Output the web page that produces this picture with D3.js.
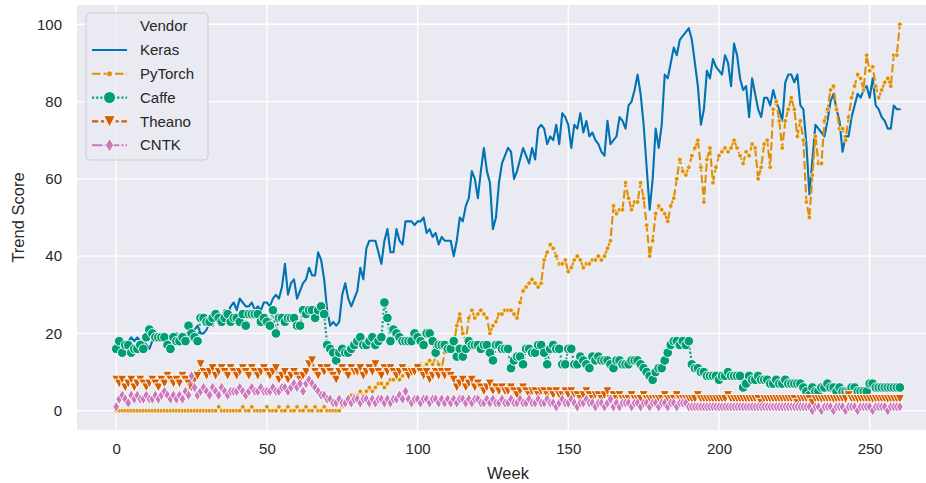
<!DOCTYPE html>
<html>
<head>
<meta charset="utf-8">
<script src="https://cdn.jsdelivr.net/npm/d3@7"></script>
<style>
  html, body { margin: 0; padding: 0; background: #ffffff; }
  svg { display: block; }
  text { font-family: "Liberation Sans", Arial, sans-serif; fill: #262626; }
</style>
</head>
<body>
<svg id="chart" width="926" height="483"></svg>
<script>
const vendors = ["Keras", "PyTorch", "Caffe", "Theano", "CNTK"];
const xTicks = [0, 50, 100, 150, 200, 250];
const yTicks = [0, 20, 40, 60, 80, 100];
const xLabel = "Week";
const yLabel = "Trend Score";
const legendTitle = "Vendor";

const keras = [
16,17,18,17,18,19,18,19,18,18,
17,16,18,19,18,19,20,19,18,19,
20,19,18,17,19,20,21,22,20,20,
21,23,22,24,25,24,26,25,27,28,
26,29,28,27,27,28,26,27,26,28,
28,27,29,30,29,32,38,30,33,34,
29,31,33,34,37,35,35,41,39,34,
26,22,23,22,23,30,33,29,27,29,
31,37,34,42,44,44,44,41,38,44,
47,41,41,47,44,43,49,49,49,48,
49,49,50,46,47,45,46,43,45,44,
44,44,40,44,50,49,53,55,62,60,
55,62,68,62,59,47,50,59,64,66,
68,67,60,62,65,68,66,64,68,65,
73,74,73,69,71,70,74,69,77,76,
74,68,74,73,77,72,75,71,72,70,
69,67,66,75,69,70,71,76,75,73,
79,80,83,87,82,74,63,52,60,73,
68,74,87,86,90,94,92,96,97,98,
99,96,90,84,74,78,88,86,91,89,
88,87,92,90,84,95,92,86,83,84,
76,86,82,78,76,81,81,79,83,80,
78,75,85,87,87,85,87,79,78,69,
56,65,74,73,72,71,75,80,82,78,
75,67,71,71,76,79,82,81,83,84,
81,86,79,78,76,75,73,73,79,78,
78];

const pytorch = [
0,0,0,0,0,0,0,0,0,0,
0,0,0,0,0,0,0,0,0,0,
0,0,0,0,0,0,0,0,0,0,
0,0,0,0,1,0,0,0,0,0,
0,0,1,0,0,1,0,0,0,0,
1,0,0,0,1,0,0,1,0,0,
1,0,0,1,0,0,1,0,0,1,
0,0,0,0,0,1,2,3,4,4,
4,5,4,5,6,5,6,7,7,6,
7,8,8,9,8,9,10,11,10,10,
11,12,11,12,13,12,14,12,11,15,
16,16,17,22,25,20,18,24,26,24,
25,26,25,24,20,22,23,25,25,26,
26,26,25,24,28,31,32,33,34,33,
32,33,39,41,43,42,40,38,38,39,
36,37,39,40,39,37,38,38,39,39,
40,39,40,42,44,53,51,52,52,59,
55,52,54,54,59,55,48,40,44,51,
53,52,51,49,53,55,60,65,62,61,
63,66,68,70,63,54,65,68,59,63,
66,67,68,67,68,70,68,66,64,67,
66,69,68,60,63,69,70,63,78,80,
75,68,75,78,81,78,71,75,70,54,
50,61,71,64,64,75,78,83,84,78,
73,73,70,76,81,84,87,86,83,92,
88,89,84,81,83,85,86,84,92,92,
100];

const caffe = [
16,18,15,17,17,15,16,16,17,16,
19,21,20,19,19,19,19,17,16,19,
18,18,19,18,22,20,19,18,24,24,
23,23,24,25,24,23,24,25,23,24,
24,23,25,22,25,25,25,25,23,24,
23,22,26,20,24,24,23,24,24,24,
22,22,26,25,26,26,24,26,27,25,
17,16,15,13,15,16,15,15,16,17,
18,19,17,17,18,19,17,18,19,28,
24,18,21,20,19,18,18,18,18,20,
19,18,17,20,20,18,15,17,17,17,
16,16,18,14,16,14,16,18,17,17,
17,16,17,17,15,13,17,17,16,16,
16,11,13,14,14,12,16,16,15,15,
17,17,15,12,16,17,16,16,12,12,
16,16,12,12,14,13,12,11,14,13,
14,13,13,13,12,11,13,13,12,12,
12,13,13,13,12,11,10,9,8,10,
11,11,13,15,17,18,18,17,18,17,
18,12,11,11,10,10,9,9,9,9,
8,9,9,10,9,9,9,9,6,7,
9,8,8,9,8,8,8,7,7,8,
7,7,8,7,7,7,7,7,6,5,
4,6,5,5,6,6,7,6,6,5,
6,5,5,5,6,6,5,5,5,5,
7,7,6,6,6,6,6,6,6,6,
6];

const theano = [
8,7,8,6,7,8,6,7,8,7,
6,7,8,7,6,8,7,9,8,7,
8,7,9,8,7,6,8,9,12,10,
9,10,11,9,10,11,10,9,11,10,
9,10,11,10,9,11,10,9,10,11,
10,9,10,11,8,9,10,8,9,10,
9,8,9,10,12,13,10,9,11,10,
11,10,9,8,10,11,10,9,11,10,
10,11,9,10,11,10,12,10,9,11,
10,11,10,9,10,11,10,9,10,10,
11,10,9,10,8,9,10,9,10,9,
10,9,8,6,7,8,6,7,8,6,
7,6,5,6,7,5,6,5,6,5,
5,6,5,4,5,6,5,4,5,5,
4,5,5,4,5,4,5,4,4,5,
4,5,4,4,3,4,5,4,3,4,
4,3,4,5,3,4,3,4,3,3,
3,4,3,3,3,4,3,3,3,3,
3,3,4,3,3,3,4,3,3,3,
3,3,3,4,3,3,3,3,3,3,
3,3,3,4,3,3,3,3,3,3,
3,3,3,3,2,3,3,3,3,3,
3,3,3,3,3,3,2,3,3,3,
3,2,3,3,3,3,3,3,3,3,
3,3,3,4,3,3,3,3,3,3,
3,3,3,3,3,3,3,3,3,3,
3];

const cntk = [
1,3,4,3,2,4,3,4,3,3,
4,3,3,4,3,4,5,4,3,4,
3,4,3,5,4,9,6,4,5,6,
5,4,6,5,4,6,5,4,5,5,
5,6,5,4,5,6,5,5,6,5,
5,5,6,5,5,6,6,5,6,7,
6,7,5,7,8,7,6,5,4,4,
3,3,2,2,3,2,2,3,2,3,
3,2,3,3,2,3,2,3,3,2,
3,2,3,3,4,3,5,3,2,3,
3,2,3,3,2,3,3,2,3,2,
3,2,3,2,3,3,2,3,2,3,
3,2,2,3,2,3,2,2,3,2,
2,3,2,2,3,2,2,3,2,2,
3,2,2,3,2,2,1,2,3,2,
2,3,2,1,2,2,3,2,2,1,
2,2,1,2,3,1,2,1,2,2,
2,1,2,2,1,2,2,1,2,2,
1,2,2,1,2,2,1,2,2,2,
1,1,1,1,1,1,1,1,1,1,
1,1,1,1,1,1,1,1,1,1,
1,1,1,1,1,1,1,1,1,1,
1,1,1,1,1,1,1,1,1,1,
1,0,1,1,0,1,1,1,0,1,
1,1,0,1,1,1,0,1,1,1,
1,0,1,1,1,1,0,1,1,1,
1];

const seriesValues = [keras, pytorch, caffe, theano, cntk];
const colors = ["#0173b2", "#de8f05", "#029e73", "#d55e00", "#cc78bc"];
const lw = 2.1;
const dashes = [null, [4*lw, 1.5*lw], [1*lw, 1*lw], [3*lw, 1.25*lw, 1.5*lw, 1.25*lw], [5*lw, 1*lw, 1*lw, 1*lw]];
const markerShapes = ["none", "dot", "circle", "tri", "diamond"];

const svg = d3.select("#chart");
const plot = { left: 77, right: 939, top: 5, bottom: 430 };

const x = d3.scaleLinear().domain([-13, 273]).range([plot.left, plot.right]);
const y = d3.scaleLinear().domain([-5, 105]).range([plot.bottom, plot.top]);

svg.append("defs").append("clipPath").attr("id", "clip")
  .append("rect").attr("x", plot.left).attr("y", plot.top)
  .attr("width", plot.right - plot.left).attr("height", plot.bottom - plot.top);

svg.append("rect").attr("x", plot.left).attr("y", plot.top)
  .attr("width", plot.right - plot.left).attr("height", plot.bottom - plot.top)
  .attr("fill", "#eaeaf2");

// grid
const grid = svg.append("g").attr("clip-path", "url(#clip)");
grid.selectAll(".gx").data(xTicks).join("line")
  .attr("x1", d => x(d)).attr("x2", d => x(d))
  .attr("y1", plot.top).attr("y2", plot.bottom)
  .attr("stroke", "#ffffff").attr("stroke-width", 1.4);
grid.selectAll(".gy").data(yTicks).join("line")
  .attr("y1", d => y(d)).attr("y2", d => y(d))
  .attr("x1", plot.left).attr("x2", plot.right)
  .attr("stroke", "#ffffff").attr("stroke-width", 1.4);

// axes (d3 axes with no tick lines / domain)
const xAxis = svg.append("g").attr("transform", `translate(0,${plot.bottom})`)
  .call(d3.axisBottom(x).tickValues(xTicks).tickSize(0).tickPadding(13).tickFormat(d3.format("d")));
const yAxis = svg.append("g").attr("transform", `translate(${plot.left},0)`)
  .call(d3.axisLeft(y).tickValues(yTicks).tickSize(0).tickPadding(15).tickFormat(d3.format("d")));
[xAxis, yAxis].forEach(a => {
  a.select(".domain").remove();
  a.selectAll("text").attr("font-size", 15).attr("fill", "#262626")
    .attr("font-family", "Liberation Sans, Arial, sans-serif");
});

svg.append("text").attr("x", (plot.left + plot.right) / 2).attr("y", 479)
  .attr("text-anchor", "middle").attr("font-size", 16.5).text(xLabel);
svg.append("text").attr("transform", `translate(24,${(plot.top + plot.bottom) / 2}) rotate(-90)`)
  .attr("text-anchor", "middle").attr("font-size", 16.5).text(yLabel);

// marker drawing
function drawMarker(g, shape, color, cx, cy, scale) {
  const s = scale || 1;
  if (shape === "dot") {
    g.append("circle").attr("cx", cx).attr("cy", cy).attr("r", 2.3 * s)
      .attr("fill", color).attr("stroke", "#fff").attr("stroke-width", 0.6);
  } else if (shape === "circle") {
    g.append("circle").attr("cx", cx).attr("cy", cy).attr("r", 4.8 * s)
      .attr("fill", color).attr("stroke", "#fff").attr("stroke-width", 0.9);
  } else if (shape === "tri") {
    const h = 4.6 * s;
    g.append("path").attr("d", `M${cx - h},${cy - h}L${cx + h},${cy - h}L${cx},${cy + h}Z`)
      .attr("fill", color).attr("stroke", "#fff").attr("stroke-width", 0.9);
  } else if (shape === "diamond") {
    const w = 3.4 * s, h = 5.4 * s;
    g.append("path").attr("d", `M${cx},${cy - h}L${cx + w},${cy}L${cx},${cy + h}L${cx - w},${cy}Z`)
      .attr("fill", color).attr("stroke", "#fff").attr("stroke-width", 0.9);
  }
}

const line = d3.line().x((d, i) => x(i)).y(d => y(d));
const dataLayer = svg.append("g").attr("clip-path", "url(#clip)");
seriesValues.forEach((vals, k) => {
  const g = dataLayer.append("g");
  const p = g.append("path").datum(vals).attr("d", line)
    .attr("fill", "none").attr("stroke", colors[k]).attr("stroke-width", lw)
    .attr("stroke-linejoin", "round").attr("stroke-linecap", k === 0 ? "round" : "butt");
  if (dashes[k]) p.attr("stroke-dasharray", dashes[k].join(","));
  if (markerShapes[k] !== "none") {
    vals.forEach((v, i) => drawMarker(g, markerShapes[k], colors[k], x(i), y(v)));
  }
});

// legend
const lg = svg.append("g");
lg.append("rect").attr("x", 86).attr("y", 13).attr("width", 122).attr("height", 147)
  .attr("rx", 4).attr("fill", "#eaeaf2").attr("fill-opacity", 0.8)
  .attr("stroke", "#cccccc").attr("stroke-width", 1);
lg.append("text").attr("x", 140).attr("y", 26).attr("dy", "0.35em")
  .attr("font-size", 15).text(legendTitle);
vendors.forEach((name, k) => {
  const cy = 50 + k * 23.8;
  const hl = lg.append("line").attr("x1", 92).attr("x2", 127).attr("y1", cy).attr("y2", cy)
    .attr("stroke", colors[k]).attr("stroke-width", lw);
  if (dashes[k]) hl.attr("stroke-dasharray", dashes[k].join(","));
  if (markerShapes[k] !== "none") drawMarker(lg, markerShapes[k], colors[k], 109.5, cy, 1.25);
  lg.append("text").attr("x", 140).attr("y", cy).attr("dy", "0.35em")
    .attr("font-size", 15).text(name);
});
</script>
</body>
</html>
